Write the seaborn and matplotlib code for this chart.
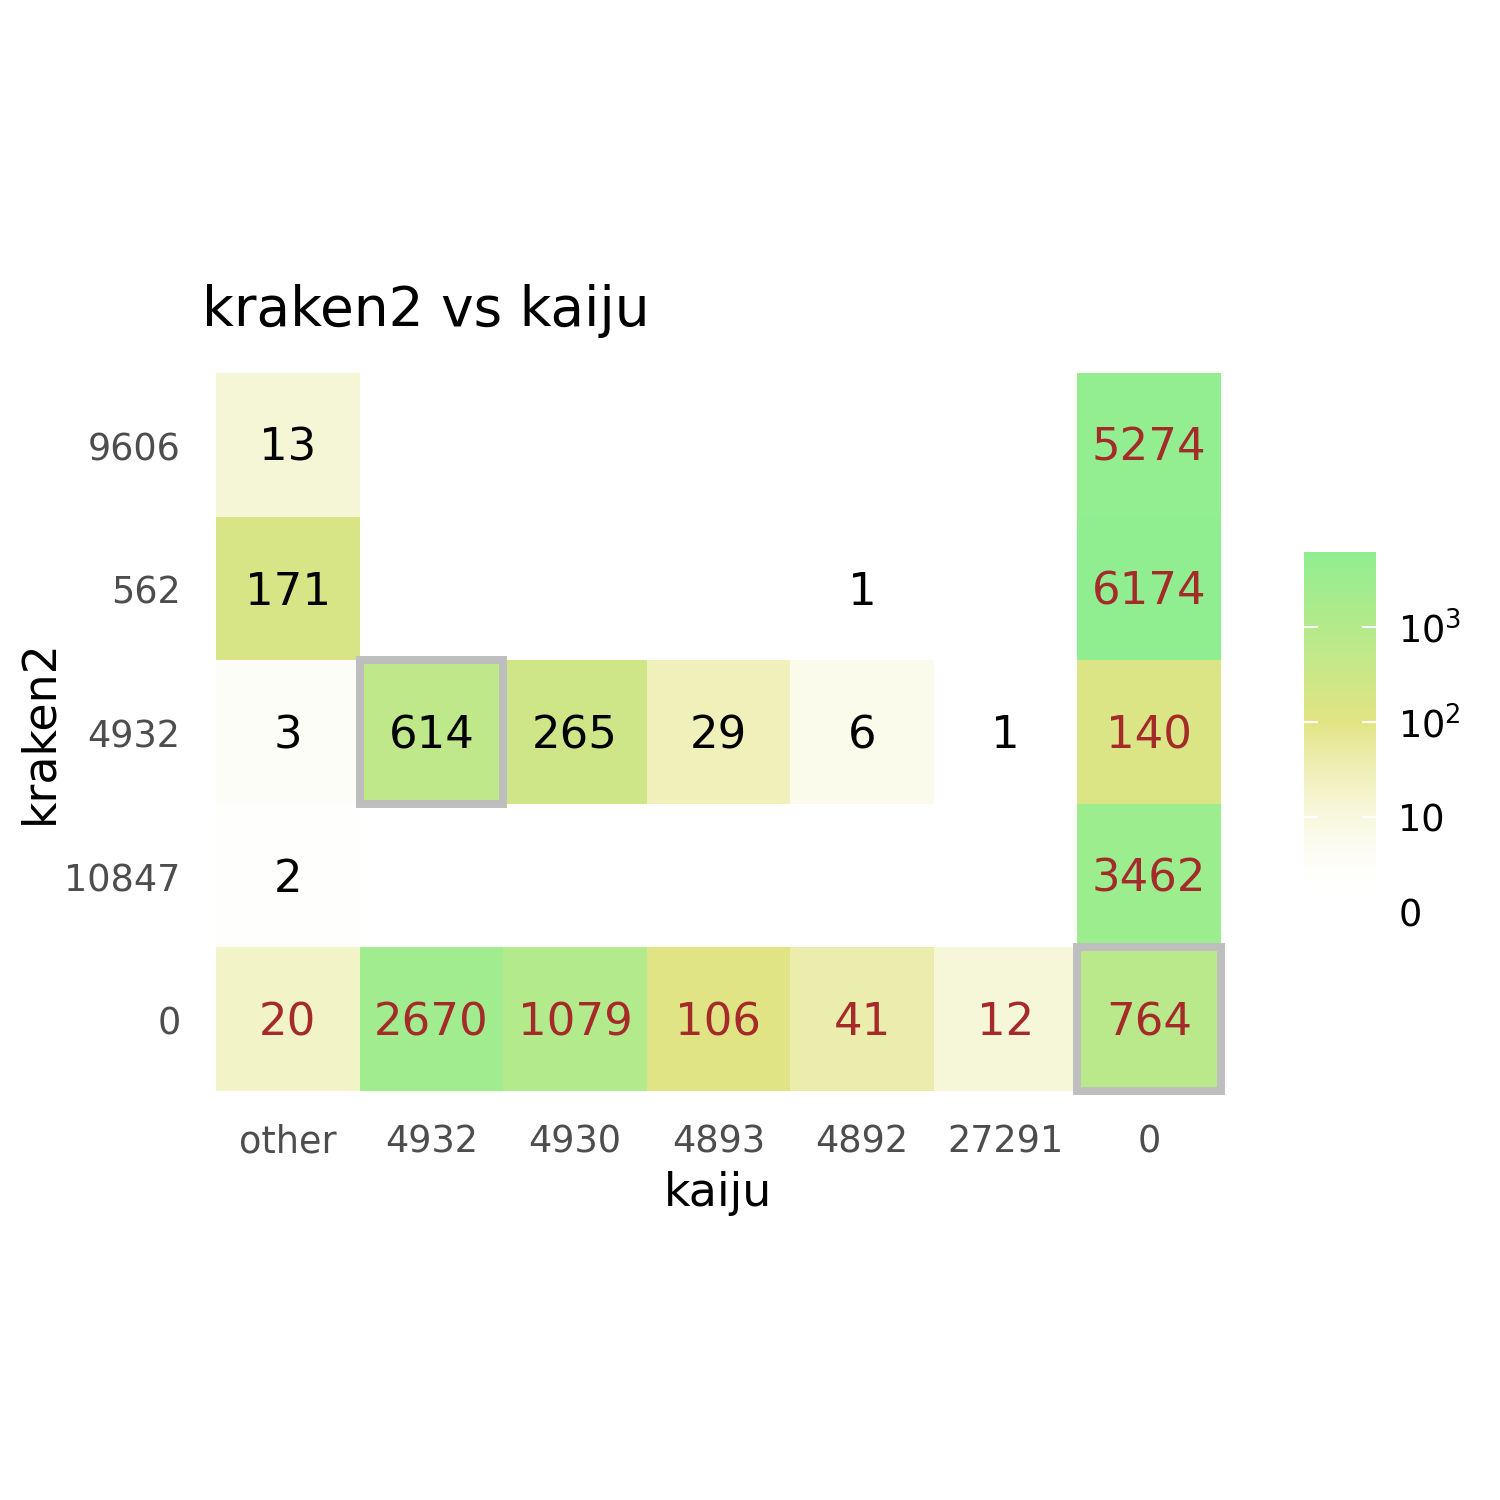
import numpy as np
import pandas as pd
import matplotlib
matplotlib.use("Agg")
import matplotlib.pyplot as plt
import matplotlib.transforms as mtransforms
from matplotlib.colors import LinearSegmentedColormap, to_rgb
from matplotlib.patches import Rectangle
import seaborn as sns

# kaiju taxids (columns) and kraken2 taxids (rows, top to bottom)
kaiju_ids = ["other", "4932", "4930", "4893", "4892", "27291", "0"]
kraken_ids = ["9606", "562", "4932", "10847", "0"]

# read counts per kraken2 row, in kaiju column order (None = no reads)
row_9606 = [13, None, None, None, None, None, 5274]
row_562 = [171, None, None, None, 1, None, 6174]
row_4932 = [3, 614, 265, 29, 6, 1, 140]
row_10847 = [2, None, None, None, None, None, 3462]
row_0 = [20, 2670, 1079, 106, 41, 12, 764]

# cells where both tools agree
matches = [("4932", "4932"), ("0", "0")]

legend_breaks = [0, 10, 100, 1000]
legend_labels = ["0", "10", "$10^{2}$", "$10^{3}$"]


def pseudo_log(x):
    return np.arcsinh(np.asarray(x, dtype=float) / 2) / np.log(10)


counts = pd.DataFrame([row_9606, row_562, row_4932, row_10847, row_0],
                      index=kraken_ids, columns=kaiju_ids, dtype=float)
scaled = pd.DataFrame(pseudo_log(counts.values), index=kraken_ids,
                      columns=kaiju_ids)
vmin = np.nanmin(scaled.values)
vmax = np.nanmax(scaled.values)

# white -> khaki -> lightgreen, lower half eased so small counts stay pale
white = np.array(to_rgb("#ffffff"))
mid = np.array(to_rgb("#e2e484"))
green = np.array(to_rgb("#90ee90"))
nodes = []
for u in np.linspace(0, 1, 21):
    nodes.append((u * 0.5, tuple(white + (mid - white) * u ** 1.6)))
nodes.append((1.0, tuple(green)))
cmap = LinearSegmentedColormap.from_list("kh", nodes)

fig = plt.figure(figsize=(5, 5), dpi=300)
ax = fig.add_axes([0.144, 0.2727, 0.670, 0.4786])
cax = fig.add_axes([0.869, 0.392, 0.048, 0.240])

sns.heatmap(scaled, ax=ax, cmap=cmap, vmin=vmin, vmax=vmax,
            cbar_ax=cax, linewidths=0, square=False)

# cell labels
for i, kr in enumerate(kraken_ids):
    for j, kj in enumerate(kaiju_ids):
        v = counts.loc[kr, kj]
        if np.isnan(v):
            continue
        col = "#a52a2a" if (kr == "0" or kj == "0") else "black"
        ax.text(j + 0.5, i + 0.5 + 0.112, f"{int(v)}", ha="center",
                va="baseline", fontsize=10.8, color=col)

for kr, kj in matches:
    i = kraken_ids.index(kr)
    j = kaiju_ids.index(kj)
    ax.add_patch(Rectangle((j, i), 1, 1, fill=False, edgecolor="#bebebe",
                           linewidth=1.9, clip_on=False, zorder=5))

ax.tick_params(length=0, labelsize=8.8, labelcolor="#4d4d4d")
ax.tick_params(axis="x", pad=7.8)
ax.tick_params(axis="y", pad=8.5)
ax.set_yticklabels(kraken_ids, rotation=0)
ax.set_xticklabels(kaiju_ids, rotation=0)
shift = mtransforms.ScaledTranslation(0, -1.2 / 72, fig.dpi_scale_trans)
for lab in ax.get_yticklabels():
    lab.set_transform(lab.get_transform() + shift)
ax.set_xlabel("kaiju", fontsize=11, labelpad=2.5)
ax.set_ylabel("kraken2", fontsize=11)
ax.yaxis.set_label_coords(-0.153, 0.5)

cbar = ax.collections[0].colorbar
cbar.outline.set_visible(False)
cax.set_ylim(0, vmax)
cax.yaxis.set_ticks_position("both")
cax.set_yticks(pseudo_log(legend_breaks))
cax.set_yticklabels(legend_labels)
cax.tick_params(axis="y", direction="in", color="white", length=3.4,
                width=0.5, labelleft=False, labelright=True,
                labelsize=8.8, pad=5.5)

fig.text(0.135, 0.783, "kraken2 vs kaiju", fontsize=13.2, ha="left",
         va="baseline")

fig.savefig("out.png", dpi=300, facecolor="white")
